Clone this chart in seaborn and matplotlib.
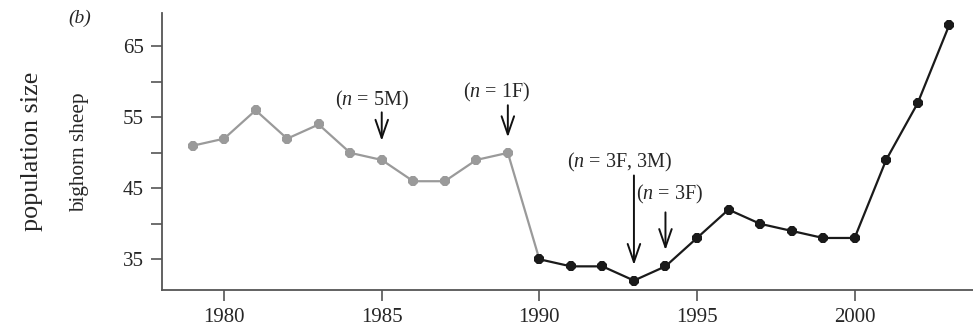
# Bighorn sheep population size, panel (b)

import pandas as pd
import matplotlib.pyplot as plt
import seaborn as sns

# values
years = list(range(1979, 2004))
pop = [51, 52, 56, 52, 54, 50, 49, 46, 46, 49, 50,
       35, 34, 34, 32, 34, 38, 42, 40, 39, 38, 38, 49, 57, 68]

ann_labels = ['($n$ = 5M)', '($n$ = 1F)', '($n$ = 3F, 3M)', '($n$ = 3F)']
ann_years = [1985, 1989, 1993, 1994]

df = pd.DataFrame({'year': years, 'pop': pop})
early = df[df['year'] <= 1990]
late = df[df['year'] >= 1990]

sns.set_style('ticks')
plt.rcParams['font.family'] = ['Liberation Serif', 'DejaVu Serif']
plt.rcParams['mathtext.fontset'] = 'custom'
plt.rcParams['mathtext.rm'] = 'Liberation Serif'
plt.rcParams['mathtext.it'] = 'Liberation Serif:italic'

fig = plt.figure(figsize=(9.73, 3.27), dpi=100)
ax = fig.add_axes([0.1665, 0.113, 0.833, 0.847])

sns.lineplot(data=early, x='year', y='pop', ax=ax, color='#9a9a9a', lw=1.6,
             marker='8', markersize=8, markeredgewidth=0)
sns.lineplot(data=late, x='year', y='pop', ax=ax, color='#1a1a1a', lw=1.6,
             marker='8', markersize=8, markeredgewidth=0)

ax.set_xlim(1978.03, 2003.74)
ax.set_ylim(30.66, 69.7)
ax.set_xticks([1980, 1985, 1990, 1995, 2000])
ax.set_yticks([35, 40, 45, 50, 55, 60, 65])
ax.set_yticklabels(['35', '', '45', '', '55', '', '65'])
ax.tick_params(labelsize=15, length=8, width=1.2, color='#555555', pad=5)
for side in ['top', 'right']:
    ax.spines[side].set_visible(False)
for side in ['left', 'bottom']:
    ax.spines[side].set_color('#555555')
    ax.spines[side].set_linewidth(1.3)
ax.set_xlabel('')
ax.set_ylabel('')

# arrows: text position (year, value), arrow start and tip
text_pos = [(1984.7, 57.4), (1988.65, 58.5), (1992.55, 48.6), (1994.14, 44.2)]
arrow_from = [56.1, 57.1, 47.2, 42.0]
arrow_to = [51.3, 51.8, 33.8, 35.9]
for lab, yr, tp, a0, a1 in zip(ann_labels, ann_years, text_pos, arrow_from, arrow_to):
    ax.text(tp[0], tp[1], lab, ha='center', va='center', fontsize=14.5)
    ax.annotate('', xy=(yr, a1), xytext=(yr, a0),
                arrowprops=dict(arrowstyle='->,head_length=1.3,head_width=0.45',
                                color='#111111', lw=1.4))

fig.text(0.082, 0.945, '(b)', fontsize=14, style='italic', ha='center', va='center')
fig.text(0.082, 0.536, 'bighorn sheep', fontsize=15.3, rotation=90, ha='center', va='center')
fig.text(0.033, 0.536, 'population size', fontsize=18.8, rotation=90, ha='center', va='center')

fig.savefig('out.png', dpi=100)
